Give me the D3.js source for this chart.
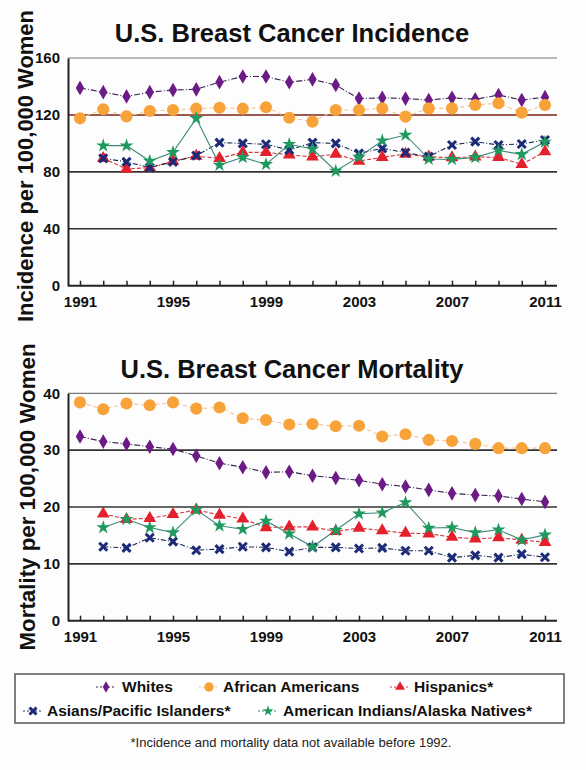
<!DOCTYPE html>
<html>
<head>
<meta charset="utf-8">
<script src="https://cdn.jsdelivr.net/npm/d3@7"></script>
<style>
  body { margin: 0; background: #fdfdfd; }
  svg { font-family: "Liberation Sans", Arial, sans-serif; }
</style>
</head>
<body>
<div id="container"></div>
<script>
var years = [1991,1992,1993,1994,1995,1996,1997,1998,1999,2000,2001,2002,2003,2004,2005,2006,2007,2008,2009,2010,2011];
var yearLabels = [1991,1995,1999,2003,2007,2011];

// incidence per 100,000
var whitesInc = [139,136,133,136,137.5,138,143,147,147,143,145,141,131.5,132,131.5,130.5,132,131,134,130.5,132.5];
var blackInc  = [117.6,124,119,122.8,123.5,124.4,125,124.4,125.4,118,115.3,123.5,123.5,124.6,118.8,124.6,124.6,127,128.2,121.6,127];
var hispInc   = [null,89.5,82,83,87.5,91,89.5,93.7,93.7,92,90.5,92.5,87.6,90.2,92.5,90.5,90,90.5,90.2,85.3,94.2];
var asianInc  = [null,89.5,87,83,87,91.4,100.5,100,99.4,95.4,100.5,100,93,96.5,93.5,90.7,98.9,101.2,98.9,99.6,102.4];
var aianInc   = [null,98.4,98.4,87.6,93.7,117.6,84.8,90.2,85.3,99.4,96,80.6,90.5,101.9,105.9,89,88.8,90.2,95,92.3,101];
var incTicks  = [0,40,80,120,160];

// mortality per 100,000
var whitesMort = [32.4,31.5,31.1,30.6,30.2,29.0,27.7,27.0,26.1,26.2,25.5,25.1,24.7,24.0,23.6,23.0,22.4,22.1,21.95,21.4,20.9];
var blackMort  = [38.4,37.2,38.2,37.9,38.4,37.3,37.5,35.6,35.3,34.5,34.6,34.2,34.3,32.4,32.8,31.8,31.6,31.1,30.35,30.35,30.35];
var hispMort   = [null,18.8,17.85,18.0,18.7,19.5,18.6,17.9,16.4,16.5,16.5,15.7,16.3,15.85,15.4,15.3,14.7,14.4,14.6,14.2,13.8];
var asianMort  = [null,13.0,12.8,14.6,13.9,12.4,12.6,13.0,12.9,12.15,12.9,12.9,12.7,12.8,12.3,12.3,11.1,11.5,11.1,11.7,11.15];
var aianMort   = [null,16.4,17.85,16.4,15.5,19.5,16.7,16.1,17.55,15.3,13.0,15.9,18.8,19.0,20.8,16.3,16.4,15.5,16.0,14.2,15.1];
var mortTicks  = [0,10,20,30,40];

var groups = ["Whites","African Americans","Hispanics*","Asians/Pacific Islanders*","American Indians/Alaska Natives*"];

var styles = [
  {fill:"#6b1a86", line:"#3b2150", dash:"6,2,1,2", sym:d3.symbolDiamond, size:62},
  {fill:"#f8a33a", line:"#f6c48e", dash:"4,3",     sym:d3.symbolCircle,  size:115},
  {fill:"#e3202b", line:"#d8343a", dash:"4,2",     sym:d3.symbolTriangle,size:70},
  {fill:"#1c2a78", line:"#1c2a55", dash:"5,2,1,2", sym:"x",              size:4},
  {fill:"#1f9a5e", line:"#3a8a78", dash:null,      sym:d3.symbolStar,    size:60}
];

var svg = d3.select("#container").append("svg")
    .attr("width", 586)
    .attr("height", 770);

function marker(g, st, x, y) {
  if (st.sym === "x") {
    var s = st.size;
    g.append("path")
      .attr("d", "M" + (x - s) + "," + (y - s) + "L" + (x + s) + "," + (y + s) +
                 "M" + (x - s) + "," + (y + s) + "L" + (x + s) + "," + (y - s))
      .attr("stroke", st.fill).attr("stroke-width", 3).attr("fill", "none");
  } else {
    g.append("path")
      .attr("d", d3.symbol().type(st.sym).size(st.size)())
      .attr("transform", "translate(" + x + "," + y + ")")
      .attr("fill", st.fill);
  }
}

function drawChart(opt) {
  var x = d3.scaleLinear().domain([1991, 2011]).range([80, 545]);
  var y = d3.scaleLinear().domain(opt.domain).range([opt.bottom, opt.top]);
  var g = svg.append("g");

  // title
  g.append("text")
    .attr("x", 292).attr("y", opt.titleY)
    .attr("text-anchor", "middle")
    .attr("font-size", 25.5).attr("font-weight", "bold")
    .attr("fill", "#111")
    .text(opt.title);

  // y axis label
  g.append("text")
    .attr("transform", "translate(" + opt.labelX + "," + opt.labelMid + ") rotate(-90)")
    .attr("text-anchor", "middle")
    .attr("font-size", 22).attr("font-weight", "bold")
    .attr("fill", "#111")
    .attr("textLength", opt.labelLen).attr("lengthAdjust", "spacingAndGlyphs")
    .text(opt.ylabel);

  // gridlines
  g.selectAll(".grid").data(opt.ticks.slice(1)).enter().append("line")
    .attr("x1", 68).attr("x2", 557)
    .attr("y1", function(d) { return y(d); })
    .attr("y2", function(d) { return y(d); })
    .attr("stroke", function(d) { return d === opt.redLine ? "#7a2316" : (d === opt.domain[1] ? "#777" : "#333"); })
    .attr("stroke-width", function(d) { return d === opt.domain[1] ? 1.2 : 1.6; });

  // y axis
  var yAxis = d3.axisLeft(y).tickValues(opt.ticks).tickSize(0).tickPadding(8);
  var ya = g.append("g").attr("transform", "translate(68,0)").call(yAxis);
  ya.select(".domain").attr("stroke", "#222").attr("stroke-width", 2);
  ya.selectAll("text").attr("font-size", 15).attr("font-weight", "bold")
    .attr("fill", "#111").attr("font-family", "Liberation Sans, Arial, sans-serif");

  // x axis, ticks each year pointing up
  var xAxis = d3.axisBottom(x).tickValues(years).tickSizeInner(-5).tickSizeOuter(0)
    .tickFormat(function(d) { return yearLabels.indexOf(d) >= 0 ? d : ""; }).tickPadding(11);
  var xa = g.append("g").attr("transform", "translate(0," + opt.bottom + ")").call(xAxis);
  xa.select(".domain").attr("d", "M68,0H557").attr("stroke", "#222").attr("stroke-width", 2);
  xa.selectAll(".tick line").attr("stroke", "#222").attr("stroke-width", 1.5);
  xa.selectAll("text").attr("font-size", 15).attr("font-weight", "bold")
    .attr("fill", "#111").attr("font-family", "Liberation Sans, Arial, sans-serif");

  var line = d3.line()
    .defined(function(d) { return d[1] != null; })
    .x(function(d) { return x(d[0]); })
    .y(function(d) { return y(d[1]); });

  opt.series.forEach(function(vals, i) {
    var st = styles[i];
    var pts = years.map(function(yr, j) { return [yr, vals[j]]; });
    g.append("path")
      .datum(pts)
      .attr("d", line)
      .attr("fill", "none")
      .attr("stroke", st.line)
      .attr("stroke-width", 1.1)
      .attr("stroke-dasharray", st.dash);
  });
  opt.series.forEach(function(vals, i) {
    var st = styles[i];
    var mg = g.append("g");
    years.forEach(function(yr, j) {
      if (vals[j] != null) marker(mg, st, x(yr), y(vals[j]));
    });
  });
}

drawChart({
  title: "U.S. Breast Cancer Incidence",
  titleY: 42,
  ylabel: "Incidence per 100,000 Women",
  labelX: 33, labelMid: 166, labelLen: 312,
  domain: [0, 160], ticks: incTicks, redLine: 120,
  top: 58, bottom: 285.7,
  series: [whitesInc, blackInc, hispInc, asianInc, aianInc]
});

drawChart({
  title: "U.S. Breast Cancer Mortality",
  titleY: 378,
  ylabel: "Mortality per 100,000 Women",
  labelX: 35, labelMid: 497, labelLen: 307,
  domain: [0, 40], ticks: mortTicks, redLine: null,
  top: 393.3, bottom: 620.7,
  series: [whitesMort, blackMort, hispMort, asianMort, aianMort]
});

// legend
var lg = svg.append("g");
lg.append("rect")
  .attr("x", 15).attr("y", 674).attr("width", 549).attr("height", 49)
  .attr("fill", "#fff").attr("stroke", "#555").attr("stroke-width", 1.5);

var legendPos = [
  {mx: 106, tx: 122, y: 687},
  {mx: 209, tx: 223, y: 687},
  {mx: 400, tx: 414, y: 687},
  {mx: 33,  tx: 47,  y: 711},
  {mx: 268, tx: 283, y: 711}
];
groups.forEach(function(name, i) {
  var p = legendPos[i], st = styles[i];
  lg.append("line")
    .attr("x1", p.mx - 10).attr("x2", p.mx + 10)
    .attr("y1", p.y).attr("y2", p.y)
    .attr("stroke", st.line).attr("stroke-width", 1)
    .attr("stroke-dasharray", "2,2");
  var small = Object.assign({}, st, {size: st.sym === "x" ? 3.5 : st.size * 0.6});
  marker(lg, small, p.mx, p.y);
  lg.append("text")
    .attr("x", p.tx).attr("y", p.y + 5)
    .attr("font-size", 15.5).attr("font-weight", "bold").attr("fill", "#111")
    .text(name);
});

svg.append("text")
  .attr("x", 291).attr("y", 747)
  .attr("text-anchor", "middle")
  .attr("font-size", 13).attr("fill", "#222")
  .text("*Incidence and mortality data not available before 1992.");
</script>
</body>
</html>
